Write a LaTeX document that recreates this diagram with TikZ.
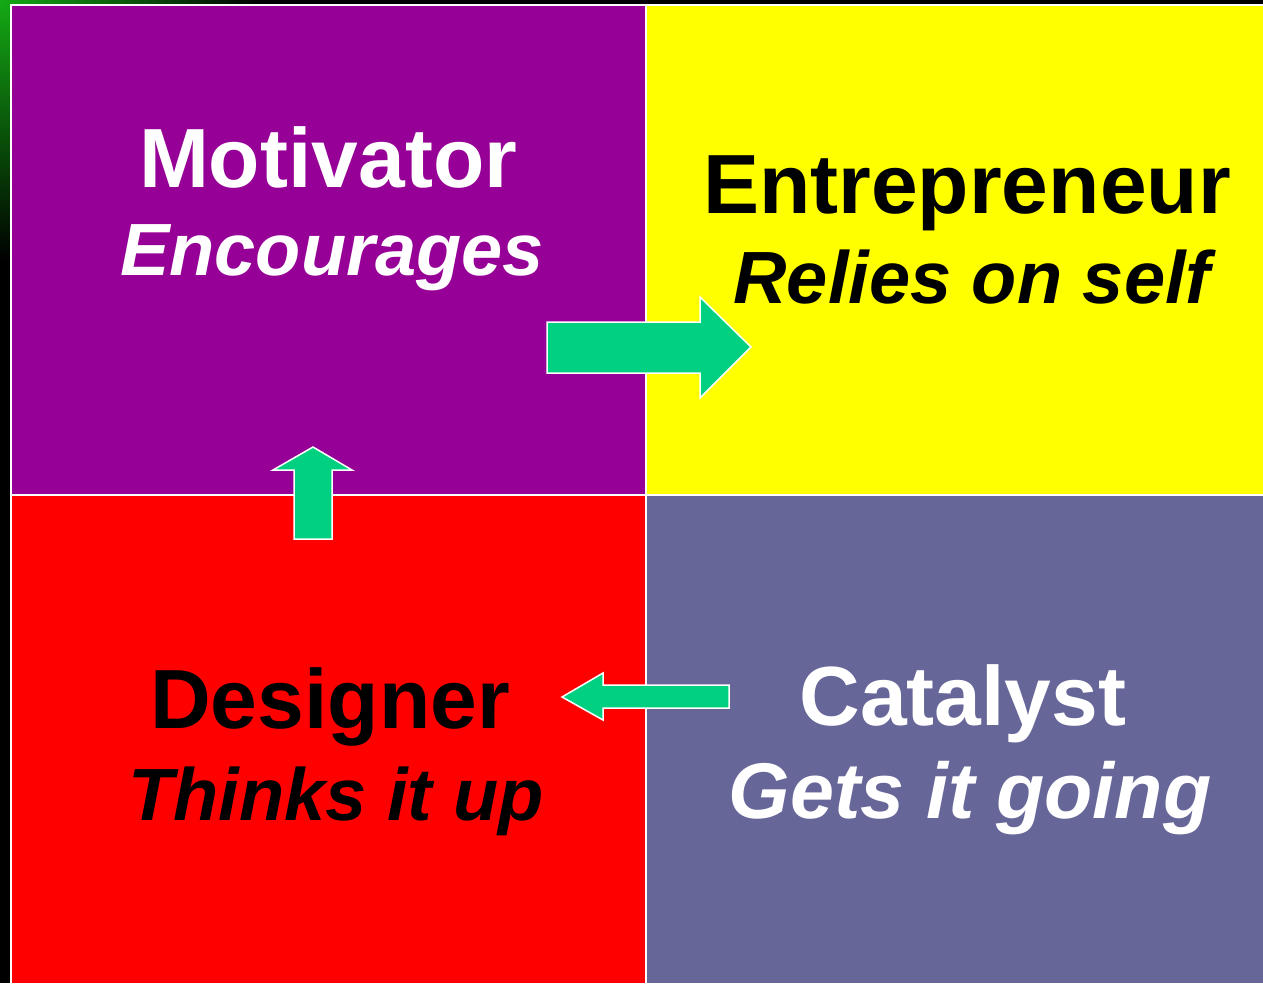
\documentclass[tikz,border=0pt]{standalone}
\usepackage{fontspec}
\setmainfont{Liberation Sans}
\definecolor{qpurple}{RGB}{150,0,150}
\definecolor{qyellow}{RGB}{255,255,0}
\definecolor{qred}{RGB}{255,0,0}
\definecolor{qslate}{RGB}{102,102,153}
\definecolor{qarrow}{RGB}{0,208,128}
\definecolor{qgreen}{RGB}{20,170,20}
\tikzset{
  quad/.style={draw=white, line width=2pt},
  arrowshape/.style={fill=qarrow, draw=white, line width=1.5pt, line join=miter},
  titletext/.style={anchor=base, inner sep=0pt, font=\fontsize{84}{84}\selectfont\bfseries},
  subtext/.style={anchor=base, inner sep=0pt, font=\fontsize{74}{74}\selectfont\bfseries\itshape},
}
\begin{document}
\begin{tikzpicture}[x=1pt,y=-1pt]
\useasboundingbox (0,0) rectangle (1263,983);
\fill[black] (0,0) rectangle (1263,983);
\shade[inner color=qgreen, outer color=black] (0,0) circle (260);
% quadrants
\fill[qpurple] (11,5) rectangle (646,495);
\fill[qyellow] (646,5) rectangle (1263,495);
\fill[qred] (11,495) rectangle (646,983);
\fill[qslate] (646,495) rectangle (1263,983);
\draw[quad] (11,990) -- (11,5) -- (1270,5);
\draw[quad] (646,5) -- (646,990);
\draw[quad] (11,495) -- (1270,495);
% texts
\node[titletext, text=white] (mot) at (328,187) {Motivator};
\node[subtext, text=white] (enc) at (332,275) {Encourages};
\node[titletext, text=black] (ent) at (967,213) {Entrepreneur};
\node[subtext, text=black] (rel) at (972,303) {Relies on self};
\node[titletext, text=black] (des) at (330,728) {Designer};
\node[subtext, text=black] (thi) at (336,820) {Thinks it up};
\node[titletext, text=white] (cat) at (963,725) {Catalyst};
\node[subtext, text=white, font=\fontsize{79}{79}\selectfont\bfseries\itshape] (get) at (970,818) {Gets it going};
% arrows
\draw[arrowshape] (547,322) -- (700,322) -- (700,297) -- (751,347) -- (700,398) -- (700,373) -- (547,373) -- cycle;
\draw[arrowshape] (294,539) -- (294,470) -- (273,470) -- (313,447) -- (352,470) -- (332,470) -- (332,539) -- cycle;
\draw[arrowshape] (729,685) -- (603,685) -- (603,673) -- (562,697) -- (603,720) -- (603,708) -- (729,708) -- cycle;
\end{tikzpicture}
\end{document}
